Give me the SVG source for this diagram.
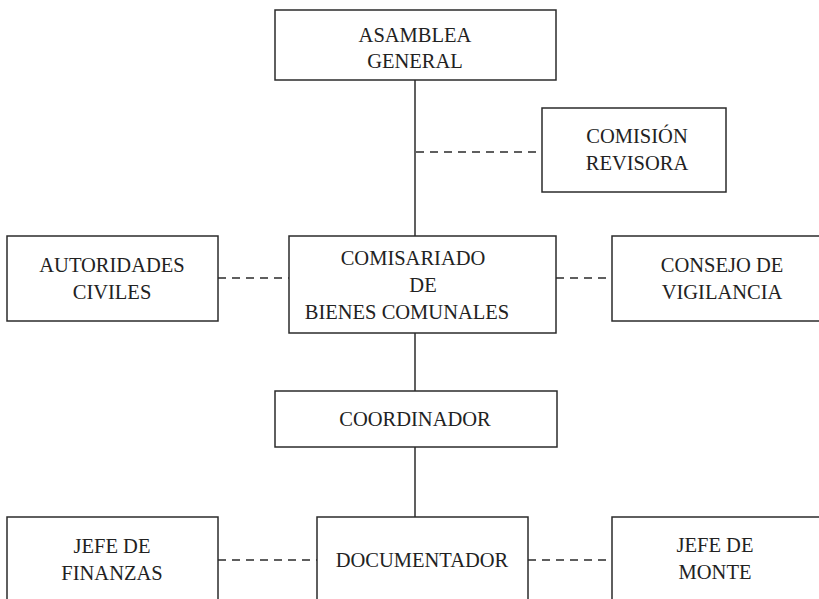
<svg xmlns="http://www.w3.org/2000/svg" width="819" height="599" viewBox="0 0 819 599">
<style>
.box{fill:#fff;stroke:#2b2b2b;stroke-width:1.5}
text{font-family:'Liberation Serif','DejaVu Serif','Times New Roman',serif;font-size:20.5px;fill:#222;text-anchor:middle}
.solid{stroke:#2b2b2b;stroke-width:1.5;fill:none}
.dash{stroke:#2b2b2b;stroke-width:1.5;fill:none;stroke-dasharray:8 6}
</style>
<rect width="819" height="599" fill="#fff"/>
<g id="connectors">
<line class="solid" x1="415" y1="80" x2="415" y2="236"/>
<line class="solid" x1="415" y1="333" x2="415" y2="391"/>
<line class="solid" x1="415" y1="447" x2="415" y2="517"/>
<line class="dash" x1="416" y1="152" x2="542" y2="152"/>
<line class="dash" x1="218" y1="278" x2="289" y2="278"/>
<line class="dash" x1="556" y1="278" x2="612" y2="278"/>
<line class="dash" x1="218" y1="560" x2="317" y2="560"/>
<line class="dash" x1="528" y1="560" x2="612" y2="560"/>
</g>
<g id="asamblea">
<rect class="box" x="275" y="10" width="281" height="70"/>
<text x="415" y="42">ASAMBLEA</text>
<text x="415" y="68">GENERAL</text>
</g>
<g id="comision">
<rect class="box" x="542" y="108" width="184" height="84"/>
<text x="637" y="143">COMISIÓN</text>
<text x="637" y="170">REVISORA</text>
</g>
<g id="autoridades">
<rect class="box" x="7" y="236" width="211" height="85"/>
<text x="112" y="272">AUTORIDADES</text>
<text x="112" y="299">CIVILES</text>
</g>
<g id="comisariado">
<rect class="box" x="289" y="236" width="267" height="97"/>
<text x="413" y="265">COMISARIADO</text>
<text x="423" y="292">DE</text>
<text x="407" y="319">BIENES COMUNALES</text>
</g>
<g id="consejo">
<rect class="box" x="612" y="236" width="212" height="85"/>
<text x="722" y="272">CONSEJO DE</text>
<text x="722" y="299">VIGILANCIA</text>
</g>
<g id="coordinador">
<rect class="box" x="275" y="391" width="282" height="56"/>
<text x="415" y="426">COORDINADOR</text>
</g>
<g id="finanzas">
<rect class="box" x="7" y="517" width="211" height="90"/>
<text x="112" y="553">JEFE DE</text>
<text x="112" y="580">FINANZAS</text>
</g>
<g id="documentador">
<rect class="box" x="317" y="517" width="211" height="90"/>
<text x="422" y="567">DOCUMENTADOR</text>
</g>
<g id="monte">
<rect class="box" x="612" y="517" width="212" height="90"/>
<text x="715" y="552">JEFE DE</text>
<text x="715" y="579">MONTE</text>
</g>
</svg>
